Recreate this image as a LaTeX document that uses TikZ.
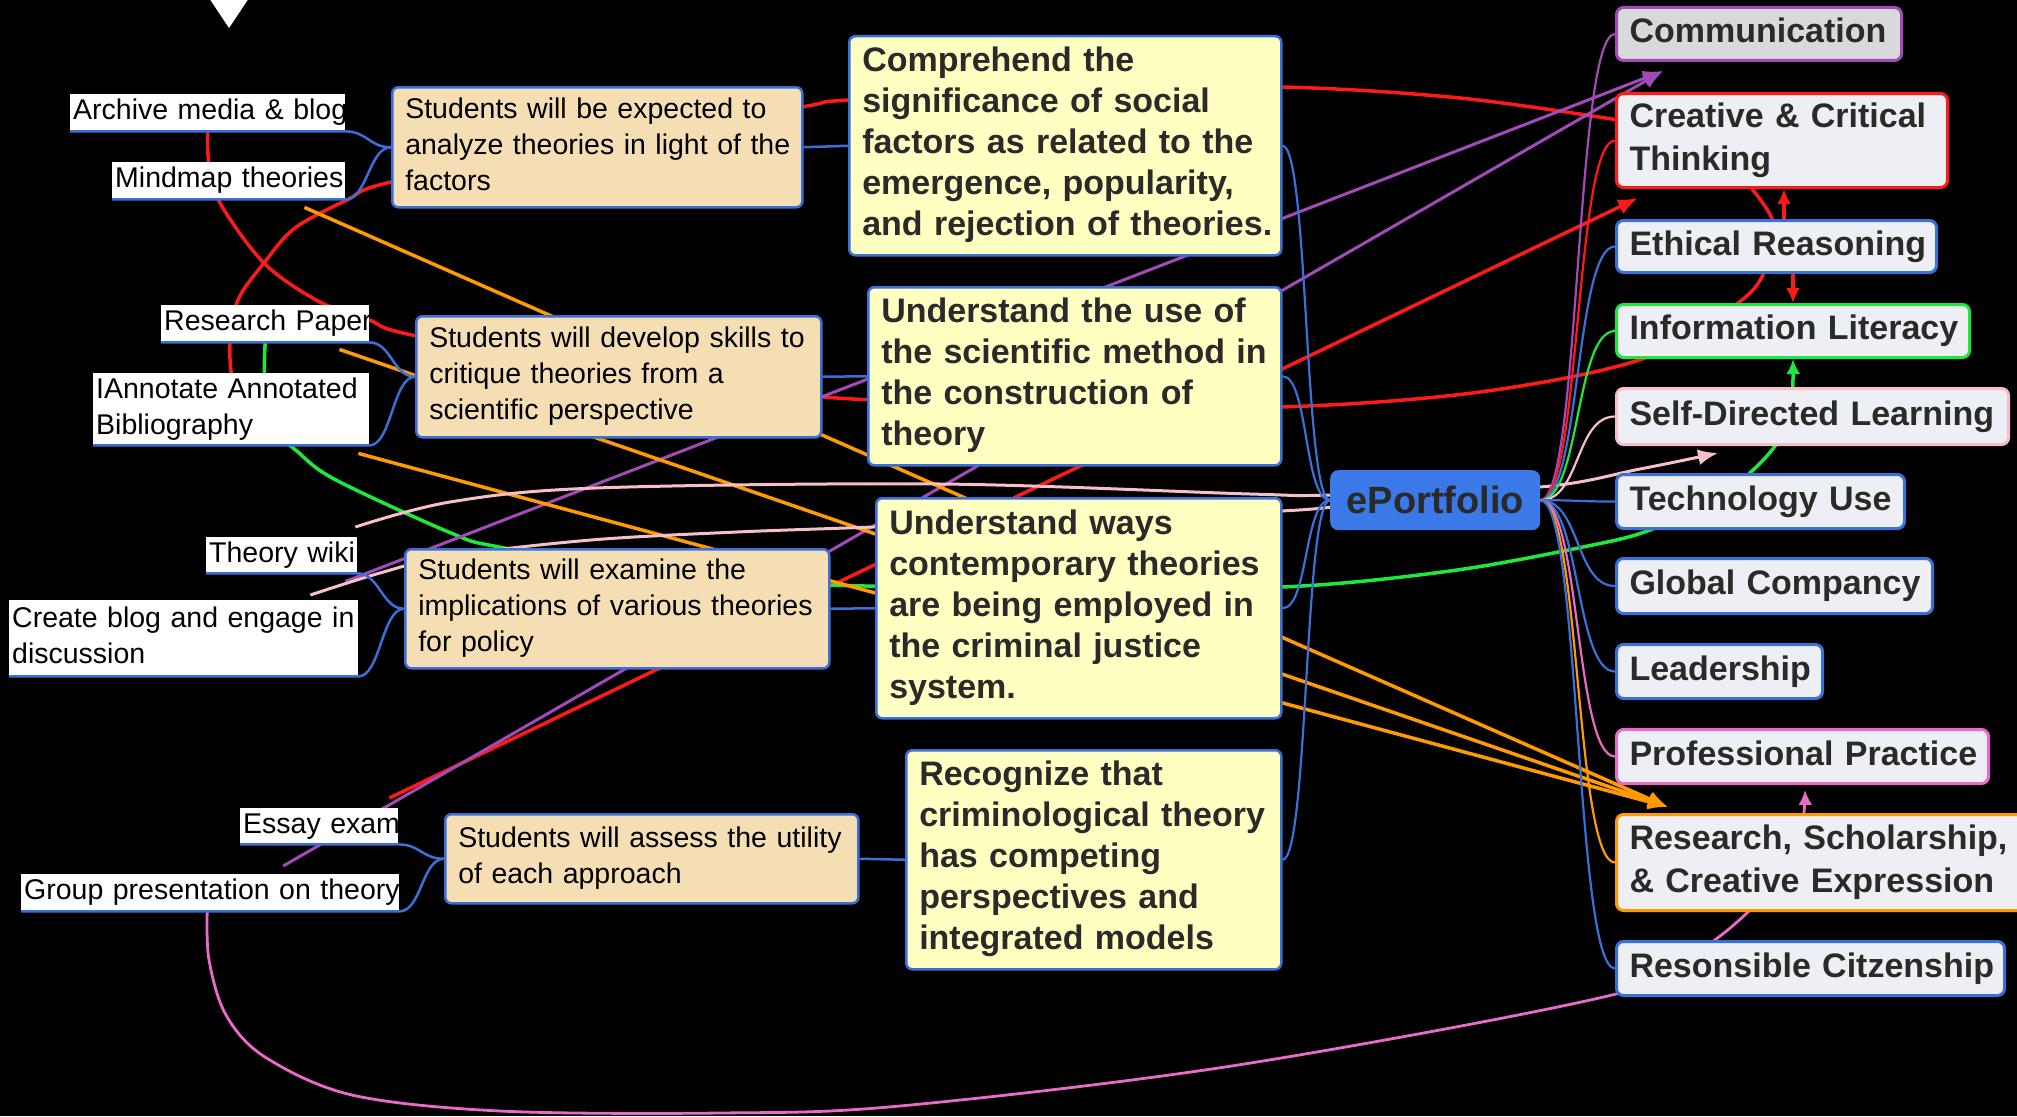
\documentclass[tikz,border=0pt]{standalone}
\usepackage{fontspec}
\setmainfont{Liberation Sans}
\usetikzlibrary{arrows.meta,calc}
\definecolor{nblue}{HTML}{3A70D8}
\definecolor{beige}{HTML}{F5DEB3}
\definecolor{lyellow}{HTML}{FFFFC2}
\definecolor{rfill}{HTML}{EEEEF5}
\definecolor{cfill}{HTML}{D9D9DC}
\definecolor{cpurple}{HTML}{A24AB8}
\definecolor{cred}{HTML}{FF1A1A}
\definecolor{cgreen}{HTML}{1EE83A}
\definecolor{corange}{HTML}{FF9A00}
\definecolor{lpink}{HTML}{F6BFCA}
\definecolor{mpink}{HTML}{E96BC9}
\definecolor{epblue}{HTML}{3B79E8}
\definecolor{dtext}{HTML}{2A2A2A}
\pgfdeclarelayer{bg}
\pgfdeclarelayer{links}
\pgfsetlayers{bg,links,main}
\newcommand{\lns}[1]{\begin{tabular}{@{}l@{}}#1\end{tabular}}
\begin{document}
\begin{tikzpicture}[x=1pt,y=-1pt,
  wnode/.style={anchor=north west, fill=white, text=black, inner xsep=3pt, inner ysep=0pt, align=left, font=\fontsize{28.5}{36}\selectfont},
  bnode/.style={anchor=north west, fill=beige, draw=nblue, line width=2.5pt, rounded corners=6pt, text=black, inner xsep=13pt, inner ysep=0pt, align=left, font=\fontsize{28.5}{36}\selectfont},
  ynode/.style={anchor=north west, fill=lyellow, draw=nblue, line width=2.5pt, rounded corners=6pt, text=dtext, inner xsep=13pt, inner ysep=0pt, align=left, font=\bfseries\fontsize{34}{41}\selectfont},
  rnode/.style={anchor=north west, fill=rfill, line width=3pt, rounded corners=7pt, text=dtext, inner xsep=13pt, inner ysep=0pt, align=left, font=\bfseries\fontsize{34}{43}\selectfont},
  tree/.style={draw=nblue, line width=2.5pt},
  rtree/.style={line width=2.2pt},
  link/.style={line width=3.5pt},
  arrowed/.style={-{Latex[length=20pt,width=16pt]}},
  sarrowed/.style={-{Latex[length=15pt,width=14pt]}}
]
\useasboundingbox (0,0) rectangle (2017,1116);
\begin{pgfonlayer}{bg}
\fill[black] (0,0) rectangle (2017,1116);
\end{pgfonlayer}

% white leaf nodes
\node[wnode, minimum width=275pt, minimum height=37pt, text width=269pt] (am) at (70,94) {\lns{Archive media \& blog}};
\node[wnode, minimum width=233pt, minimum height=37pt, text width=227pt] (mm) at (112,162) {\lns{Mindmap theories}};
\node[wnode, minimum width=208pt, minimum height=37pt, text width=202pt] (rp) at (161,305) {\lns{Research Paper}};
\node[wnode, minimum width=276pt, minimum height=72pt, text width=270pt] (ia) at (93,373) {\lns{IAnnotate Annotated\\Bibliography}};
\node[wnode, minimum width=151pt, minimum height=35pt, text width=145pt] (tw) at (206,537) {\lns{Theory wiki}};
\node[wnode, minimum width=349pt, minimum height=76pt, text width=343pt] (cb) at (9,600) {\lns{Create blog and engage in\\discussion}};
\node[wnode, minimum width=158pt, minimum height=36pt, text width=152pt] (ee) at (240,808) {\lns{Essay exam}};
\node[wnode, minimum width=378pt, minimum height=37pt, text width=372pt] (gp) at (21,874) {\lns{Group presentation on theory}};

% beige nodes
\node[bnode, minimum width=410pt, minimum height=120pt, text width=384pt] (a1) at (391,86) {\lns{Students will be expected to\\analyze theories in light of the\\factors}};
\node[bnode, minimum width=405pt, minimum height=121pt, text width=379pt] (a2) at (415,315) {\lns{Students will develop skills to\\critique theories from a\\scientific perspective}};
\node[bnode, minimum width=424pt, minimum height=119pt, text width=398pt] (a3) at (404,548) {\lns{Students will examine the\\implications of various theories\\for policy}};
\node[bnode, minimum width=413pt, minimum height=89pt, text width=387pt] (a4) at (444,813) {\lns{Students will assess the utility\\of each approach}};

% yellow nodes
\node[ynode, minimum width=432pt, minimum height=219pt, text width=406pt] (y1) at (848,35) {\lns{Comprehend the\\significance of social\\factors as related to the\\emergence, popularity,\\and rejection of theories.}};
\node[ynode, minimum width=413pt, minimum height=178pt, text width=387pt] (y2) at (867,286) {\lns{Understand the use of\\the scientific method in\\the construction of\\theory}};
\node[ynode, minimum width=405pt, minimum height=220pt, text width=379pt] (y3) at (875,497) {\lns{Understand ways\\contemporary theories\\are being employed in\\the criminal justice\\system.}};
\node[ynode, minimum width=375pt, minimum height=219pt, text width=349pt] (y4) at (905,749) {\lns{Recognize that\\criminological theory\\has competing\\perspectives and\\integrated models}};

% central node
\node[anchor=north west, fill=epblue, rounded corners=8pt, minimum width=210pt, minimum height=60pt, inner sep=0pt, text=dtext, font=\bfseries\fontsize{38}{44}\selectfont] (ep) at (1330,470) {ePortfolio};

% right nodes
\node[rnode, fill=cfill, draw=cpurple, minimum width=285pt, minimum height=53pt, text width=259pt] (com) at (1615,6) {\lns{Communication}};
\node[rnode, draw=cred, minimum width=331pt, minimum height=94pt, text width=305pt] (cct) at (1615,92) {\lns{Creative \& Critical\\Thinking}};
\node[rnode, draw=nblue, minimum width=320pt, minimum height=52pt, text width=294pt] (er) at (1615,219) {\lns{Ethical Reasoning}};
\node[rnode, draw=cgreen, minimum width=353pt, minimum height=53pt, text width=327pt] (il) at (1615,303) {\lns{Information Literacy}};
\node[rnode, draw=lpink, minimum width=392pt, minimum height=56pt, text width=366pt] (sdl) at (1615,387) {\lns{Self-Directed Learning}};
\node[rnode, draw=nblue, minimum width=288pt, minimum height=54pt, text width=262pt] (tu) at (1615,473) {\lns{Technology Use}};
\node[rnode, draw=nblue, minimum width=316pt, minimum height=55pt, text width=290pt] (gc) at (1615,557) {\lns{Global Compancy}};
\node[rnode, draw=nblue, minimum width=206pt, minimum height=54pt, text width=180pt] (ld) at (1615,643) {\lns{Leadership}};
\node[rnode, draw=mpink, minimum width=372pt, minimum height=54pt, text width=346pt] (pp) at (1615,728) {\lns{Professional Practice}};
\node[rnode, draw=corange, minimum width=412pt, minimum height=96pt, text width=386pt] (rs) at (1615,813) {\lns{Research, Scholarship,\\\& Creative Expression}};
\node[rnode, draw=nblue, minimum width=388pt, minimum height=54pt, text width=362pt] (rc) at (1615,940) {\lns{Resonsible Citzenship}};

% white marker at the top
\fill[white] (209,-2) -- (249,-2) -- (229,28) -- cycle;

% tree connectors (left)
\draw[tree] (am.south west) -- (am.south east) to[out=0,in=180,distance=22pt] (a1.west);
\draw[tree] (mm.south west) -- (mm.south east) to[out=0,in=180,distance=22pt] (a1.west);
\draw[tree] (rp.south west) -- (rp.south east) to[out=0,in=180,distance=22pt] (a2.west);
\draw[tree] (ia.south west) -- (ia.south east) to[out=0,in=180,distance=22pt] (a2.west);
\draw[tree] (tw.south west) -- (tw.south east) to[out=0,in=180,distance=22pt] (a3.west);
\draw[tree] (cb.south west) -- (cb.south east) to[out=0,in=180,distance=22pt] (a3.west);
\draw[tree] (ee.south west) -- (ee.south east) to[out=0,in=180,distance=22pt] (a4.west);
\draw[tree] (gp.south west) -- (gp.south east) to[out=0,in=180,distance=22pt] (a4.west);
\draw[tree] (a1.east) -- (y1.west);
\draw[tree] (a2.east) -- (y2.west);
\draw[tree] (a3.east) -- (y3.west);
\draw[tree] (a4.east) -- (y4.west);
\draw[tree,line width=2.2pt] (ep.west) to[out=180,in=0,distance=26pt] (y1.east);
\draw[tree,line width=2.2pt] (ep.west) to[out=180,in=0,distance=26pt] (y2.east);
\draw[tree,line width=2.2pt] (ep.west) to[out=180,in=0,distance=26pt] (y3.east);
\draw[tree,line width=2.2pt] (ep.west) to[out=180,in=0,distance=26pt] (y4.east);

% tree connectors (right)
\draw[rtree,cpurple] (ep.east) to[out=0,in=180,distance=40pt] (com.west);
\draw[rtree,cred] (ep.east) to[out=0,in=180,distance=40pt] (cct.west);
\draw[rtree,nblue] (ep.east) to[out=0,in=180,distance=40pt] (er.west);
\draw[rtree,cgreen] (ep.east) to[out=0,in=180,distance=40pt] (il.west);
\draw[rtree,lpink] (ep.east) to[out=0,in=180,distance=40pt] (sdl.west);
\draw[rtree,nblue] (ep.east) to[out=0,in=180,distance=40pt] (tu.west);
\draw[rtree,nblue] (ep.east) to[out=0,in=180,distance=40pt] (gc.west);
\draw[rtree,nblue] (ep.east) to[out=0,in=180,distance=40pt] (ld.west);
\draw[rtree,mpink] (ep.east) to[out=0,in=180,distance=40pt] (pp.west);
\draw[rtree,corange] (ep.east) to[out=0,in=180,distance=40pt] (rs.west);
\draw[rtree,nblue] (ep.east) to[out=0,in=180,distance=40pt] (rc.west);

% cross links, behind the nodes
\begin{pgfonlayer}{links}
% red
\draw[link,cred] plot[smooth,tension=0.55] coordinates {(am.south) (209,165) (220,203) (264,263) (318,301) (369,320) (412,335) (620,372) (823,397) (1050,405) (1280,407) (1480,392) (1645,358) (1742,300) (1768,262) (1773,222) ([xshift=-30pt]cct.south)};
\draw[link,cred] plot[smooth,tension=0.55] coordinates {(ia.north) (230,343) (238,300) (264,263) (295,228) (347,200) (391,182) (600,139) (801,107) (849,100) (1070,90) (1280,87) (1460,98) ([yshift=21pt]cct.west)};
\draw[link,cred,arrowed] ([xshift=-9pt,yshift=10pt]ee.north east) -- ([xshift=23pt,yshift=-9pt]cct.south west);
\draw[link,cred,sarrowed] ([xshift=169pt]er.north west) -- ([xshift=169pt]cct.south west);
\draw[link,cred,sarrowed] ([xshift=178pt]er.south west) -- ([xshift=178pt]il.north west);
% green
\draw[link,cgreen,sarrowed] plot[smooth,tension=0.55] coordinates {(rp.south) (265,380) (275,428) (298,452) (336,480) (451,533) (499,547) (660,574) (830,585) (1050,588) (1282,587) (1450,571) (1583,547) (1650,530) (1720,495) (1752,471) (1777,443) (1791,410) ([xshift=178pt]il.south west)};
% purple
\draw[link,cpurple,arrowed,line width=3pt] ([xshift=-12pt,yshift=-8pt]tw.south east) -- ([xshift=48pt,yshift=-9pt]com.south west);
\draw[link,cpurple,arrowed,line width=3pt] ([xshift=73pt,yshift=8pt]gp.north) -- ([xshift=48pt,yshift=-9pt]com.south west);
% orange
\draw[link,corange,arrowed] ([xshift=-41pt,yshift=-8pt]mm.south east) -- ([xshift=53pt,yshift=6pt]rs.north west);
\draw[link,corange,arrowed] ([xshift=-30pt,yshift=-7pt]rp.south east) -- ([xshift=53pt,yshift=6pt]rs.north west);
\draw[link,corange,arrowed] ([xshift=-11pt,yshift=-8pt]ia.south east) -- ([xshift=53pt,yshift=6pt]rs.north west);
% light pink
\draw[link,lpink,arrowed,line width=3pt] plot[smooth,tension=0.55] coordinates {([xshift=-2pt,yshift=10pt]tw.north east) (450,502) (596,488) (940,484) (1250,494) (1330,495) (1540,487) (1640,469) ([xshift=103pt,yshift=-7pt]sdl.south west)};
\draw[link,lpink,line width=3pt] plot[smooth,tension=0.55] coordinates {([xshift=-48pt,yshift=5pt]cb.north east) (380,573) (450,556) (591,540) (737,532) (873,527) (1100,518) (1281,511) ([yshift=-7pt]ep.west)};
% magenta
\draw[line width=2.8pt,mpink,sarrowed] plot[smooth,tension=0.55] coordinates {([xshift=-3pt]gp.south) (209,960) (226,1015) (265,1057) (352,1095) (500,1111) (720,1113) (900,1106) (1238,1065) (1616,994) (1700,950) (1752,908) (1790,860) (1803,818) ([xshift=190pt,yshift=-5pt]pp.south west)};
\end{pgfonlayer}
\end{tikzpicture}
\end{document}
